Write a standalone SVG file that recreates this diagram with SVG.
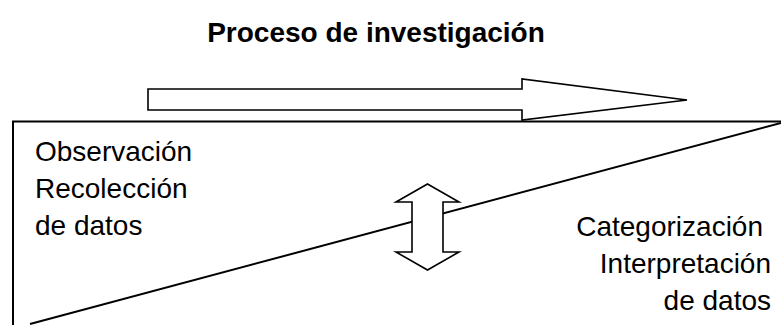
<svg xmlns="http://www.w3.org/2000/svg" width="781" height="325" viewBox="0 0 781 325">
<style>
.t{font-family:"Liberation Sans",Arial,sans-serif;font-size:28px;fill:#000}
.b{font-weight:bold}
.s{fill:#fff;stroke:#000;stroke-width:1.6;stroke-linejoin:miter}
.l{fill:none;stroke:#000;stroke-width:2}
</style>
<rect width="781" height="325" fill="#fff"/>
<g id="title"><text class="t b" x="376" y="42" text-anchor="middle">Proceso de investigación</text></g>
<g id="frame">
<polyline class="l" points="13,325 13,121.5 781,121.5"/>
</g>
<g id="connectors">
<line class="l" x1="30" y1="324" x2="781" y2="123"/>
<polygon id="process-arrow" class="s" points="148,89 522,89 522,79 687,100 522,120 522,110 148,110"/>
<polygon id="double-arrow" class="s" points="427.5,184 459,202 443,202 443,252 459,252 427.5,270 396,252 412,252 412,202 396,202"/>
</g>
<g id="left-text">
<text class="t" x="35" y="161">Observación</text>
<text class="t" x="35" y="198">Recolección</text>
<text class="t" x="35" y="235">de datos</text>
</g>
<g id="right-text">
<text class="t" x="763" y="236" text-anchor="end">Categorización</text>
<text class="t" x="771" y="273" text-anchor="end">Interpretación</text>
<text class="t" x="771" y="310" text-anchor="end">de datos</text>
</g>
</svg>
